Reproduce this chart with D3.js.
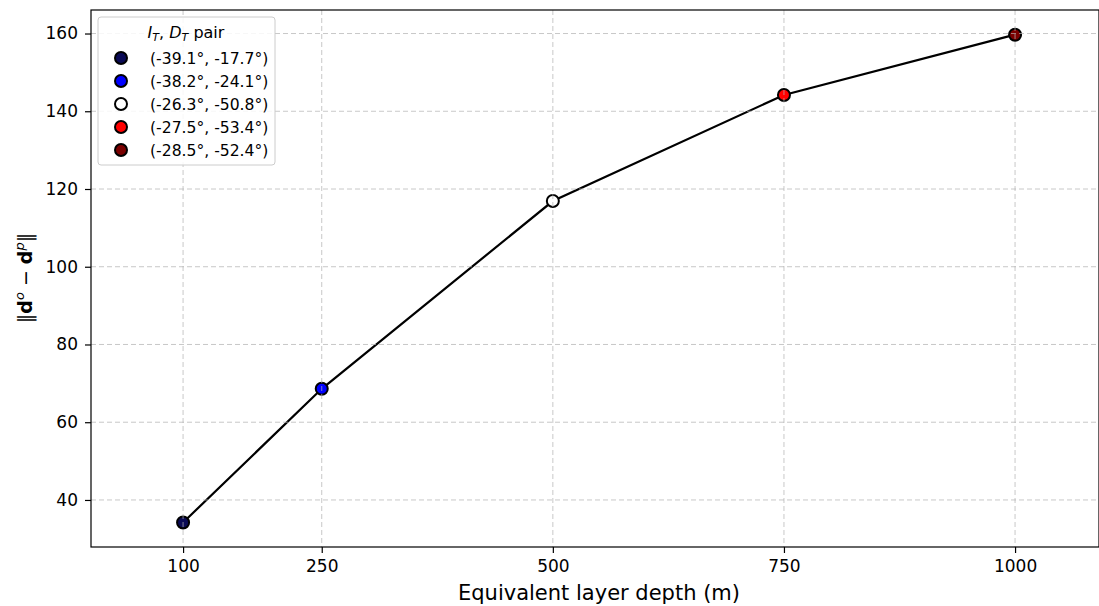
<!DOCTYPE html>
<html>
<head>
<meta charset="utf-8">
<script src="https://cdn.jsdelivr.net/npm/d3@7"></script>
<style>
body { margin: 0; background: #fff; }
text { font-family: "DejaVu Sans", sans-serif; }
</style>
</head>
<body>
<script>
const WIDTH = 1099;
const HEIGHT = 606;

const depths = [100, 250, 500, 750, 1000];
const misfit = [34.2, 68.6, 116.9, 144.2, 159.7];
const pairs = ["(-39.1°, -17.7°)", "(-38.2°, -24.1°)", "(-26.3°, -50.8°)", "(-27.5°, -53.4°)", "(-28.5°, -52.4°)"];
const colors = ["#0a0a55", "#0000ff", "#ffffff", "#ff0000", "#7a0000"];
const yTicks = [40, 60, 80, 100, 120, 140, 160];

const mLeft = 91, mRight = 1099, mTop = 10, mBottom = 547;

const svg = d3.select("body")
	.append("svg")
	.attr("width", WIDTH)
	.attr("height", HEIGHT);

const x = d3.scaleLinear().domain([0.4, 1090.8]).range([mLeft, mRight]);
const y = d3.scaleLinear().domain([27.9, 166.05]).range([mBottom, mTop]);

// axes
const xAxis = svg.append("g")
	.attr("transform", `translate(0,${mBottom})`)
	.call(d3.axisBottom(x).tickValues(depths).tickFormat(d3.format("d")).tickSize(6).tickPadding(7));
const yAxis = svg.append("g")
	.attr("transform", `translate(${mLeft},0)`)
	.call(d3.axisLeft(y).tickValues(yTicks).tickFormat(d3.format("d")).tickSize(6).tickPadding(7));
[xAxis, yAxis].forEach(a => {
	a.select(".domain").remove();
	a.attr("font-size", 17).attr("font-family", "DejaVu Sans");
	a.selectAll("text").style("font-size", "17px").attr("fill", "#000");
	a.selectAll("line").attr("stroke", "#000").attr("stroke-width", 1.2);
});

// line + points
const line = d3.line().x((d, i) => x(depths[i])).y(d => y(d));
svg.append("path")
	.datum(misfit)
	.attr("d", line)
	.attr("fill", "none")
	.attr("stroke", "#000")
	.attr("stroke-width", 2.2);

svg.selectAll("circle.pt")
	.data(misfit)
	.enter()
	.append("circle")
	.attr("class", "pt")
	.attr("cx", (d, i) => x(depths[i]))
	.attr("cy", d => y(d))
	.attr("r", 6)
	.attr("fill", (d, i) => colors[i])
	.attr("stroke", "#000")
	.attr("stroke-width", 2);

// grid (drawn over markers like the original)
const grid = svg.append("g").attr("stroke", "#b0b0b0").attr("stroke-opacity", 0.7)
	.attr("stroke-dasharray", "5,3").attr("stroke-width", 1);
grid.selectAll("line.gx").data(depths).enter().append("line")
	.attr("x1", d => x(d)).attr("x2", d => x(d)).attr("y1", mTop).attr("y2", mBottom);
grid.selectAll("line.gy").data(yTicks).enter().append("line")
	.attr("x1", mLeft).attr("x2", mRight).attr("y1", d => y(d)).attr("y2", d => y(d));

// frame
svg.append("rect")
	.attr("x", mLeft).attr("y", mTop)
	.attr("width", mRight - mLeft).attr("height", mBottom - mTop)
	.attr("fill", "none").attr("stroke", "#000").attr("stroke-width", 1.2);

// axis labels
svg.append("text")
	.attr("x", 599)
	.attr("y", 600)
	.attr("text-anchor", "middle")
	.style("font-size", "21px")
	.text("Equivalent layer depth (m)");

const yl = svg.append("text")
	.attr("transform", "translate(32,278) rotate(-90)")
	.attr("text-anchor", "middle")
	.style("font-size", "19px");
yl.append("tspan").text("‖");
yl.append("tspan").attr("font-weight", "bold").text("d");
yl.append("tspan").attr("font-size", 13).attr("font-style", "italic").attr("dy", -8).text("o");
yl.append("tspan").attr("dy", 8).text(" − ");
yl.append("tspan").attr("font-weight", "bold").text("d");
yl.append("tspan").attr("font-size", 13).attr("font-style", "italic").attr("dy", -8).text("p");
yl.append("tspan").attr("dy", 8).text("‖");

// legend
const lg = svg.append("g");
lg.append("rect")
	.attr("x", 98).attr("y", 17).attr("width", 177).attr("height", 148)
	.attr("rx", 3)
	.attr("fill", "#fff").attr("fill-opacity", 0.85)
	.attr("stroke", "#ccc").attr("stroke-width", 1);
const title = lg.append("text")
	.attr("x", 186).attr("y", 38)
	.attr("text-anchor", "middle")
	.style("font-size", "16px");
title.append("tspan").attr("font-style", "italic").text("I");
title.append("tspan").attr("font-style", "italic").attr("font-size", 11).attr("dy", 3).text("T");
title.append("tspan").attr("dy", -3).text(", ");
title.append("tspan").attr("font-style", "italic").text("D");
title.append("tspan").attr("font-style", "italic").attr("font-size", 11).attr("dy", 3).text("T");
title.append("tspan").attr("dy", -3).text(" pair");

const items = lg.selectAll("g.item")
	.data(pairs)
	.enter()
	.append("g")
	.attr("transform", (d, i) => `translate(0,${58 + i * 23})`);
items.append("circle")
	.attr("cx", 121).attr("cy", 0).attr("r", 6)
	.attr("fill", (d, i) => colors[i])
	.attr("stroke", "#000").attr("stroke-width", 2);
items.append("text")
	.attr("x", 150).attr("y", 5.5)
	.style("font-size", "15.6px")
	.text(d => d);
</script>
</body>
</html>
